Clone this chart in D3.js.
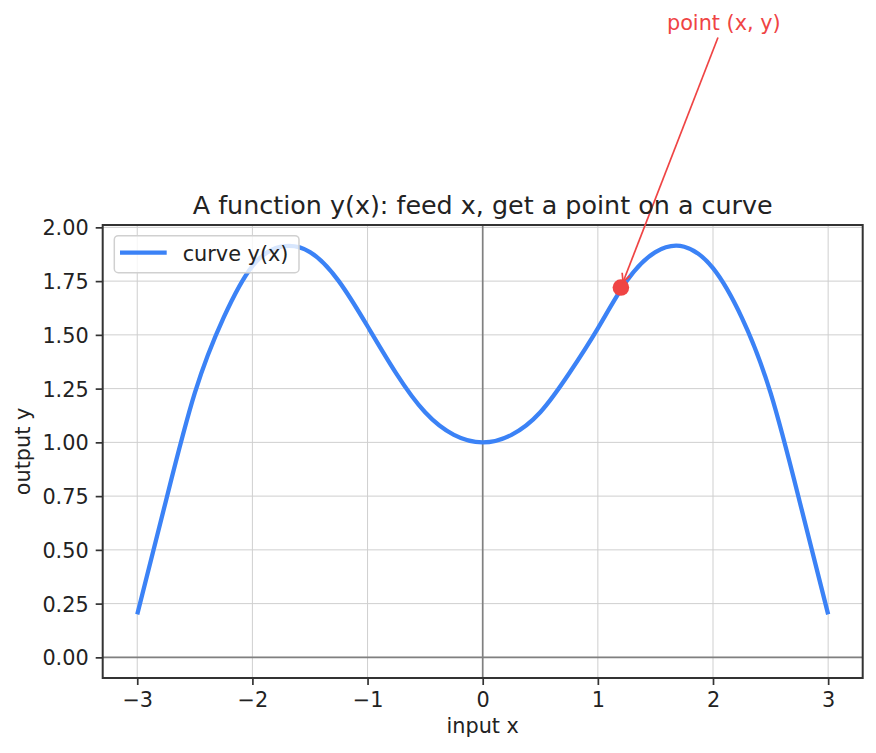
<!DOCTYPE html>
<html>
<head>
<meta charset="utf-8">
<script src="https://cdn.jsdelivr.net/npm/d3@7"></script>
<style>
  body { margin: 0; background: #fff; }
  svg text { font-family: "DejaVu Sans", sans-serif; fill: #222; }
</style>
</head>
<body>
<div id="chart"></div>
<script>
// Curve samples
const xs = [-3, -2.75, -2.5, -2.25, -2, -1.75, -1.5, -1.25, -1, -0.75, -0.5, -0.25, 0,
            0.25, 0.5, 0.75, 1, 1.25, 1.5, 1.75, 2, 2.25, 2.5, 2.75, 3];
const ys = [0.2, 0.73, 1.23, 1.58, 1.82, 1.91, 1.885, 1.75, 1.54, 1.32, 1.14, 1.035, 1.0,
            1.035, 1.14, 1.32, 1.53, 1.75, 1.885, 1.91, 1.81, 1.58, 1.23, 0.73, 0.2];
const xTicks = [-3, -2, -1, 0, 1, 2, 3];
const yTicks = [0, 0.25, 0.5, 0.75, 1, 1.25, 1.5, 1.75, 2];
const point = { x: 1.2, y: 1.72 };
const noteAt = { x: 1.6, y: 2.92 };   // left/baseline of annotation text

const data = xs.map((x, i) => ({ x: x, y: ys[i] }));

// Dimensions
const W = 876, H = 753;
const margin = { top: 225, right: 13.3, bottom: 75, left: 102.7 },
    width = W - margin.left - margin.right,
    height = H - margin.top - margin.bottom;

const svg = d3.select("#chart").append("svg")
    .attr("width", W).attr("height", H);

const g = svg.append("g")
    .attr("transform", `translate(${margin.left},${margin.top})`);

// Scales
const x = d3.scaleLinear().domain([-3.3, 3.3]).range([0, width]);
const y = d3.scaleLinear().domain([-0.096, 2.011]).range([height, 0]);

// Grid
g.append("g").selectAll("line").data(xTicks).enter().append("line")
    .attr("x1", d => x(d)).attr("x2", d => x(d))
    .attr("y1", 0).attr("y2", height)
    .attr("stroke", "#cfcfcf").attr("stroke-width", 1);
g.append("g").selectAll("line").data(yTicks).enter().append("line")
    .attr("x1", 0).attr("x2", width)
    .attr("y1", d => y(d)).attr("y2", d => y(d))
    .attr("stroke", "#cfcfcf").attr("stroke-width", 1);

// Zero lines
g.append("line")
    .attr("x1", 0).attr("x2", width).attr("y1", y(0)).attr("y2", y(0))
    .attr("stroke", "#808080").attr("stroke-width", 1.7);
g.append("line")
    .attr("x1", x(0)).attr("x2", x(0)).attr("y1", 0).attr("y2", height)
    .attr("stroke", "#808080").attr("stroke-width", 1.7);

// Curve
const line = d3.line()
    .x(d => x(d.x))
    .y(d => y(d.y))
    .curve(d3.curveNatural);

g.append("path")
    .datum(data)
    .attr("d", line)
    .attr("fill", "none")
    .attr("stroke", "#3b82f6")
    .attr("stroke-width", 4.3)
    .attr("stroke-linecap", "butt");

// Point
g.append("circle")
    .attr("cx", x(point.x)).attr("cy", y(point.y))
    .attr("r", 8.3)
    .attr("fill", "#ef4444");

// Axes
const xAxis = g.append("g")
    .attr("transform", `translate(0,${height})`)
    .call(d3.axisBottom(x).tickValues(xTicks).tickSize(7).tickPadding(7)
        .tickFormat(d => d < 0 ? "\u2212" + Math.abs(d) : d));
const yAxis = g.append("g")
    .call(d3.axisLeft(y).tickValues(yTicks).tickSize(7).tickPadding(7)
        .tickFormat(d3.format(".2f")));

[xAxis, yAxis].forEach(a => {
    a.select(".domain").remove();
    a.selectAll(".tick line").attr("stroke", "#333").attr("stroke-width", 1.7);
    a.selectAll(".tick text")
        .style("font-family", "DejaVu Sans")
        .style("font-size", "20.8px")
        .attr("fill", "#222");
});
xAxis.selectAll(".tick text").attr("dy", "0.72em");
yAxis.selectAll(".tick text").attr("dy", "0.36em");

// Frame
g.append("rect")
    .attr("width", width).attr("height", height)
    .attr("fill", "none").attr("stroke", "#333").attr("stroke-width", 2);

// Legend
const legend = g.append("g").attr("transform", "translate(11.6,10.7)");
legend.append("rect")
    .attr("width", 184.7).attr("height", 37)
    .attr("rx", 4)
    .attr("fill", "rgba(255,255,255,0.8)")
    .attr("stroke", "#d0d0d0").attr("stroke-width", 1.5);
legend.append("line")
    .attr("x1", 5.7).attr("x2", 52.4).attr("y1", 17).attr("y2", 17)
    .attr("stroke", "#3b82f6").attr("stroke-width", 4.3);
legend.append("text")
    .attr("x", 68.4).attr("y", 25.3)
    .style("font-size", "20.8px")
    .text("curve y(x)");

// Title and axis labels
svg.append("text")
    .attr("x", margin.left + width / 2).attr("y", 214)
    .attr("text-anchor", "middle")
    .style("font-size", "25.4px")
    .text("A function y(x): feed x, get a point on a curve");

svg.append("text")
    .attr("x", margin.left + width / 2).attr("y", 732.5)
    .attr("text-anchor", "middle")
    .style("font-size", "20.8px")
    .text("input x");

svg.append("text")
    .attr("transform", `translate(30,${margin.top + height / 2}) rotate(-90)`)
    .attr("text-anchor", "middle")
    .style("font-size", "20.8px")
    .text("output y");

// Annotation
const note = g.append("text")
    .attr("x", x(noteAt.x)).attr("y", y(noteAt.y))
    .style("font-size", "20.8px")
    .style("fill", "#ef4444")
    .text("point (x, y)");

const bb = note.node().getBBox();
const cx = bb.x + bb.width / 2, cy = bb.y + bb.height / 2;
const px = x(point.x), py = y(point.y);
const dx = px - cx, dy = py - cy, len = Math.hypot(dx, dy);
const ux = dx / len, uy = dy / len;
// start where the line leaves the text box, end a little short of the point
const tStart = (bb.height / 2 + 3) / uy;
const sx = cx + ux * tStart, sy = cy + uy * tStart;
const ex = px - ux * 6, ey = py - uy * 6;

g.append("line")
    .attr("x1", sx).attr("y1", sy).attr("x2", ex).attr("y2", ey)
    .attr("stroke", "#ef4444").attr("stroke-width", 1.7);

const hl = 8.3, hw = 4.2;
const head = [
    [ex - ux * hl + uy * hw, ey - uy * hl - ux * hw],
    [ex, ey],
    [ex - ux * hl - uy * hw, ey - uy * hl + ux * hw]
];
g.append("path")
    .attr("d", d3.line()(head))
    .attr("fill", "none")
    .attr("stroke", "#ef4444").attr("stroke-width", 1.7);
</script>
</body>
</html>
